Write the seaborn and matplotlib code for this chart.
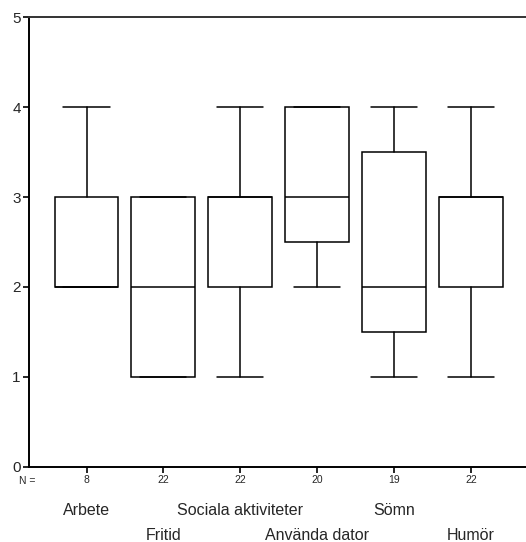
import seaborn as sns
import matplotlib.pyplot as plt

# five-number summaries
categories = ["Arbete", "Fritid", "Sociala aktiviteter", "Använda dator", "Sömn", "Humör"]
n_values = [8, 22, 22, 20, 19, 22]
whisker_low = [2, 1, 1, 2, 1, 1]
q1 = [2, 1, 2, 2.5, 1.5, 2]
median = [2, 2, 3, 3, 2, 3]
q3 = [3, 3, 3, 4, 3.5, 3]
whisker_high = [4, 3, 4, 4, 4, 4]
y_ticks = [0, 1, 2, 3, 4, 5]

sns.set_style("white")
plt.rcParams['font.family'] = ['Liberation Sans', 'DejaVu Sans']

stats = []
for i, cat in enumerate(categories):
    stats.append({"label": cat, "whislo": whisker_low[i], "q1": q1[i], "med": median[i],
                  "q3": q3[i], "whishi": whisker_high[i], "fliers": []})

fig = plt.figure(figsize=(5.26, 5.42), dpi=100)
ax = fig.add_axes([0.0551, 0.1384, 0.9449, 0.8302])

line = dict(color="black", linewidth=1.1)
ax.bxp(stats, positions=range(len(categories)), widths=0.83, showfliers=False,
       patch_artist=True,
       boxprops=dict(facecolor="white", edgecolor="black", linewidth=1.1),
       medianprops=line, whiskerprops=line, capprops=line, capwidths=0.6)

ax.set_xlim(-0.748, 5.715)
ax.set_ylim(0, 5)
ax.set_yticks(y_ticks)
ax.set_yticklabels([str(t) for t in y_ticks], fontsize=11)
ax.set_xticks(range(len(categories)))
ax.set_xticklabels([str(n) for n in n_values], fontsize=7.5)
ax.tick_params(axis="both", direction="out", length=4, width=1.2, color="black",
               bottom=True, left=True, pad=2)

for side in ["left", "bottom", "top"]:
    ax.spines[side].set_visible(True)
    ax.spines[side].set_linewidth(1.4)
ax.spines["left"].set_color("black")
ax.spines["bottom"].set_color("black")
ax.spines["top"].set_color("#333333")
ax.spines["right"].set_visible(False)

ax.text(-0.77, -0.16, "N =", ha="center", va="center", fontsize=7.5, clip_on=False)
for i, cat in enumerate(categories):
    y = -0.48 if i % 2 == 0 else -0.76
    ax.text(i, y, cat, ha="center", va="center", fontsize=11.5, clip_on=False)

fig.savefig("out.png", dpi=100)
